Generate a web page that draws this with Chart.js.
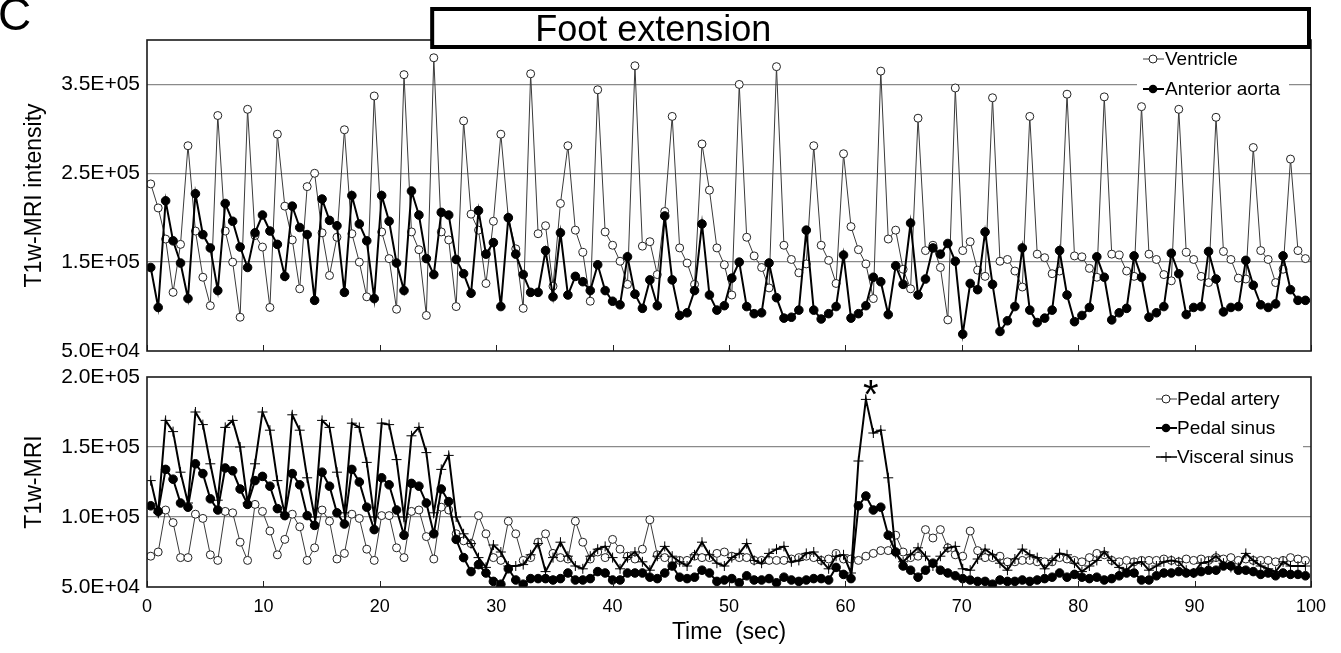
<!DOCTYPE html>
<html><head><meta charset="utf-8">
<script src="https://cdn.jsdelivr.net/npm/chart.js@4.4.0/dist/chart.umd.min.js"></script>
<style>
html,body{margin:0;padding:0;background:#fff;overflow:hidden;}
#wrap{position:relative;width:1341px;height:653px;background:#fff;}
canvas{position:absolute;left:0;}
#c1{top:0;} #c2{top:365px;}
</style></head><body>
<div id="wrap"><canvas id="c1" width="1341" height="365"></canvas><canvas id="c2" width="1341" height="288"></canvas></div>
<script>
// ---- data (values in units of 1E+05) ----
const times = [0.32,0.96,1.60,2.24,2.88,3.52,4.16,4.80,5.44,6.08,
 6.72,7.36,8.00,8.64,9.28,9.92,10.56,11.20,11.84,12.48,
 13.12,13.76,14.40,15.04,15.68,16.32,16.96,17.60,18.24,18.88,
 19.52,20.16,20.80,21.44,22.08,22.72,23.36,24.00,24.64,25.28,
 25.92,26.56,27.20,27.84,28.48,29.12,29.76,30.40,31.04,31.68,
 32.32,32.96,33.60,34.24,34.88,35.52,36.16,36.80,37.44,38.08,
 38.72,39.36,40.00,40.64,41.28,41.92,42.56,43.20,43.84,44.48,
 45.12,45.76,46.40,47.04,47.68,48.32,48.96,49.60,50.24,50.88,
 51.52,52.16,52.80,53.44,54.08,54.72,55.36,56.00,56.64,57.28,
 57.92,58.56,59.20,59.84,60.48,61.12,61.76,62.40,63.04,63.68,
 64.32,64.96,65.60,66.24,66.88,67.52,68.16,68.80,69.44,70.08,
 70.72,71.36,72.00,72.64,73.28,73.92,74.56,75.20,75.84,76.48,
 77.12,77.76,78.40,79.04,79.68,80.32,80.96,81.60,82.24,82.88,
 83.52,84.16,84.80,85.44,86.08,86.72,87.36,88.00,88.64,89.28,
 89.92,90.56,91.20,91.84,92.48,93.12,93.76,94.40,95.04,95.68,
 96.32,96.96,97.60,98.24,98.88,99.52];

const ventricle = [2.38,2.11,1.76,1.16,1.70,2.81,1.85,1.33,1.01,3.15,
 1.85,1.50,0.88,3.22,1.80,1.67,0.99,2.94,2.13,1.75,
 1.20,2.35,2.50,1.83,1.35,1.78,2.99,1.82,1.50,1.11,
 3.37,1.84,1.54,0.97,3.61,1.84,1.64,0.90,3.80,1.84,
 1.75,1.00,3.09,2.04,1.86,1.26,1.96,2.94,2.00,1.65,
 0.98,3.62,1.82,1.91,1.23,2.16,2.81,1.86,1.61,1.06,
 3.44,1.84,1.69,1.51,1.25,3.71,1.68,1.73,1.36,2.07,
 3.14,1.66,1.49,1.25,2.83,2.31,1.66,1.47,1.13,3.50,
 1.78,1.57,1.44,1.21,3.70,1.69,1.53,1.38,1.48,2.81,
 1.69,1.52,1.26,2.72,1.90,1.64,1.48,1.09,3.65,1.76,
 1.86,1.42,1.20,3.12,1.63,1.69,1.44,0.85,3.46,1.63,
 1.73,1.41,1.34,3.35,1.51,1.53,1.40,1.22,3.14,1.59,
 1.55,1.37,1.40,3.39,1.57,1.56,1.43,1.33,3.36,1.59,
 1.58,1.40,1.34,3.25,1.59,1.53,1.36,1.29,3.22,1.61,
 1.53,1.34,1.27,3.13,1.62,1.53,1.32,1.31,2.79,1.63,
 1.53,1.27,1.42,2.66,1.63,1.54];

const anteriorAorta = [1.44,0.99,2.19,1.74,1.49,1.09,2.27,1.81,1.66,1.18,
 2.16,1.96,1.67,1.44,1.83,2.03,1.85,1.70,1.34,2.13,
 1.89,1.81,1.07,2.21,1.97,1.91,1.16,2.25,1.93,1.74,
 1.09,2.25,1.96,1.49,1.18,2.30,2.03,1.54,1.36,2.06,
 2.03,1.53,1.37,1.15,2.08,1.59,1.72,1.00,2.00,1.59,
 1.36,1.16,1.16,1.63,1.11,1.83,1.13,1.34,1.28,1.18,
 1.47,1.18,1.06,1.02,1.56,1.14,0.98,1.30,1.01,2.02,
 1.30,0.90,0.93,1.18,1.93,1.13,0.96,1.01,1.32,1.50,
 1.00,0.92,0.93,1.49,1.10,0.87,0.88,0.96,1.86,0.96,
 0.86,0.92,1.00,1.58,0.87,0.92,1.01,1.33,1.28,0.91,
 1.46,1.25,1.94,1.13,1.31,1.66,1.59,1.71,1.51,0.69,
 1.26,1.19,1.84,1.25,0.72,0.84,1.00,1.66,0.96,0.82,
 0.87,0.96,1.63,1.13,0.83,0.90,0.99,1.56,1.33,0.85,
 0.93,0.98,1.57,1.33,0.88,0.93,1.00,1.60,1.37,0.91,
 0.99,1.00,1.62,1.31,0.94,0.99,1.00,1.52,1.24,1.02,
 0.99,1.03,1.57,1.19,1.07,1.07];

const pedalArtery = [0.72,0.75,1.05,0.96,0.71,0.71,1.02,0.99,0.73,0.69,
 1.04,1.03,0.82,0.69,1.09,1.04,0.90,0.73,0.84,1.02,
 0.93,0.69,0.78,1.05,0.97,0.70,0.74,1.02,0.99,0.77,
 0.69,1.01,1.01,0.78,0.71,1.04,1.05,0.86,0.70,1.07,
 1.05,0.88,0.83,0.81,1.01,0.88,0.71,0.69,0.97,0.88,
 0.69,0.71,0.82,0.88,0.74,0.71,0.70,0.97,0.82,0.70,
 0.75,0.71,0.84,0.77,0.72,0.70,0.77,0.98,0.73,0.71,
 0.69,0.69,0.69,0.72,0.71,0.71,0.74,0.75,0.72,0.71,
 0.71,0.69,0.69,0.69,0.69,0.69,0.70,0.71,0.72,0.71,
 0.69,0.70,0.74,0.70,0.70,0.69,0.72,0.74,0.76,0.76,
 0.87,0.75,0.71,0.72,0.91,0.85,0.91,0.78,0.73,0.72,
 0.90,0.76,0.71,0.71,0.72,0.68,0.68,0.69,0.69,0.68,
 0.68,0.68,0.71,0.70,0.69,0.68,0.71,0.74,0.73,0.69,
 0.68,0.69,0.68,0.69,0.69,0.69,0.70,0.69,0.68,0.70,
 0.69,0.70,0.69,0.71,0.70,0.71,0.69,0.70,0.69,0.69,
 0.69,0.68,0.69,0.71,0.70,0.69];

const pedalSinus = [1.08,1.04,1.34,1.27,1.10,1.07,1.38,1.31,1.13,1.05,
 1.35,1.33,1.20,1.09,1.26,1.29,1.22,1.06,1.01,1.31,
 1.23,1.01,0.94,1.32,1.22,1.03,0.95,1.34,1.25,1.07,
 0.91,1.28,1.23,1.05,0.87,1.24,1.22,1.10,0.88,1.20,
 1.11,0.84,0.71,0.61,0.66,0.60,0.54,0.52,0.63,0.55,
 0.52,0.56,0.56,0.56,0.55,0.56,0.60,0.55,0.55,0.56,
 0.61,0.60,0.55,0.55,0.60,0.60,0.60,0.57,0.56,0.60,
 0.65,0.57,0.56,0.57,0.62,0.60,0.54,0.55,0.56,0.53,
 0.58,0.55,0.55,0.56,0.53,0.57,0.55,0.54,0.55,0.56,
 0.56,0.55,0.64,0.59,0.56,1.08,1.15,1.05,1.07,0.87,
 0.75,0.65,0.62,0.57,0.62,0.67,0.62,0.60,0.58,0.56,
 0.55,0.54,0.54,0.52,0.55,0.54,0.54,0.55,0.54,0.55,
 0.56,0.57,0.60,0.57,0.59,0.57,0.56,0.57,0.55,0.56,
 0.58,0.60,0.60,0.55,0.55,0.58,0.60,0.60,0.61,0.60,
 0.60,0.61,0.62,0.62,0.65,0.65,0.62,0.62,0.61,0.59,
 0.60,0.58,0.60,0.59,0.59,0.58];

const visceralSinus = [1.26,1.03,1.69,1.61,1.32,1.10,1.75,1.66,1.38,1.12,
 1.64,1.69,1.50,1.10,1.38,1.75,1.62,1.26,1.02,1.73,
 1.62,1.28,1.00,1.69,1.64,1.32,1.03,1.67,1.64,1.39,
 1.00,1.67,1.66,1.41,1.00,1.58,1.64,1.46,1.03,1.34,
 1.44,1.00,0.88,0.81,0.71,0.64,0.80,0.75,0.65,0.65,
 0.66,0.73,0.81,0.61,0.71,0.82,0.72,0.65,0.63,0.72,
 0.77,0.79,0.71,0.63,0.71,0.75,0.68,0.62,0.72,0.79,
 0.72,0.68,0.65,0.73,0.82,0.73,0.67,0.65,0.71,0.74,
 0.81,0.69,0.67,0.74,0.77,0.79,0.68,0.69,0.74,0.75,
 0.69,0.63,0.72,0.73,0.60,1.40,1.84,1.60,1.62,1.28,
 0.74,0.68,0.73,0.78,0.72,0.65,0.72,0.78,0.79,0.63,
 0.62,0.70,0.77,0.73,0.67,0.62,0.70,0.77,0.73,0.71,
 0.63,0.69,0.74,0.73,0.67,0.61,0.65,0.69,0.75,0.69,
 0.64,0.62,0.67,0.68,0.62,0.65,0.68,0.69,0.68,0.62,
 0.60,0.67,0.68,0.72,0.67,0.64,0.64,0.74,0.69,0.65,
 0.63,0.61,0.68,0.65,0.65,0.65];

const xTicks = [0,10,20,30,40,50,60,70,80,90,100];
const topYTicks = [0.5,1.5,2.5,3.5];
const topYLabels = ['5.0E+04','1.5E+05','2.5E+05','3.5E+05'];
const botYTicks = [0.5,1.0,1.5,2.0];
const botYLabels = ['5.0E+04','1.0E+05','1.5E+05','2.0E+05'];
const footStart = 24.5;      // start of "Foot extension" period (sec)
const starIndex = 96;        // sample marked with "*"

// ---- rendering ----
const FONT = '"Liberation Sans", Arial, Helvetica, sans-serif';
Chart.defaults.font.family = FONT;
Chart.defaults.color = '#000';
const pts = arr => times.map((t, i) => ({x: t, y: arr[i]}));
const GRID = '#8a8a8a';

function drawLegendMarker(ctx, style, x, y) {
  ctx.save();
  ctx.lineWidth = 1;
  if (style === 'open') { ctx.fillStyle = '#fff'; ctx.strokeStyle = '#222';
    ctx.beginPath(); ctx.arc(x, y, 4, 0, Math.PI*2); ctx.fill(); ctx.stroke(); }
  else if (style === 'filled') { ctx.fillStyle = '#000'; ctx.beginPath(); ctx.arc(x, y, 4.3, 0, Math.PI*2); ctx.fill(); }
  else { ctx.strokeStyle = '#000'; ctx.beginPath(); ctx.moveTo(x-5, y); ctx.lineTo(x+5, y); ctx.moveTo(x, y-5); ctx.lineTo(x, y+5); ctx.stroke(); }
  ctx.restore();
}

const decor = {
  id: 'decor',
  afterDraw(chart, args, o) {
    const ctx = chart.ctx, a = chart.chartArea, xs = chart.scales.x, ys = chart.scales.y;
    ctx.save();
    ctx.strokeStyle = '#222'; ctx.lineWidth = 1;
    xTicks.forEach(v => { const px = Math.round(xs.getPixelForValue(v)) + 0.5;
      ctx.beginPath(); ctx.moveTo(px, a.bottom); ctx.lineTo(px, a.bottom - 6); ctx.stroke(); });
    ctx.lineWidth = 1.6; ctx.strokeStyle = '#1a1a1a';
    ctx.strokeRect(a.left, a.top, a.right - a.left, a.bottom - a.top);
    const L = o.legend;
    ctx.fillStyle = '#fff';
    ctx.fillRect(L.box[0], L.box[1], L.box[2] - L.box[0], L.box[3] - L.box[1]);
    ctx.font = '19px ' + FONT; ctx.textBaseline = 'middle'; ctx.textAlign = 'left';
    L.items.forEach(it => {
      ctx.strokeStyle = it.lineColor; ctx.lineWidth = it.lineWidth;
      ctx.beginPath(); ctx.moveTo(L.mx - 10, it.y); ctx.lineTo(L.mx + 11, it.y); ctx.stroke();
      drawLegendMarker(ctx, it.marker, L.mx, it.y);
      ctx.fillStyle = '#000'; ctx.fillText(it.text, L.tx, it.y + 1);
    });
    if (o.foot) {
      const x0 = xs.getPixelForValue(footStart), x1 = a.right - 2;
      ctx.fillStyle = '#fff'; ctx.fillRect(x0, 9, x1 - x0, 38);
      ctx.lineWidth = 4; ctx.strokeStyle = '#000'; ctx.strokeRect(x0, 9, x1 - x0, 38);
      ctx.fillStyle = '#000'; ctx.font = '36px ' + FONT; ctx.textBaseline = 'alphabetic';
      ctx.fillText('Foot extension', x0 + 103, 41);
      ctx.font = '46px ' + FONT; ctx.fillText('C', -2, 30);
    }
    if (o.star) {
      const px = xs.getPixelForValue(times[starIndex]) + 5;
      const py = ys.getPixelForValue(visceralSinus[starIndex]) - 12;
      ctx.font = '40px ' + FONT; ctx.textBaseline = 'alphabetic'; ctx.textAlign = 'center';
      const m = ctx.measureText('*');
      ctx.fillStyle = '#000';
      ctx.fillText('*', px, py - (m.actualBoundingBoxDescent - m.actualBoundingBoxAscent) / 2);
    }
    ctx.restore();
  }
};

function yScale(min, max, tickVals, tickLabels, title, titlePad) {
  return {
    min, max,
    afterBuildTicks: s => { s.ticks = tickVals.map(v => ({value: v})); },
    afterFit: s => { s.width = 147; s.paddingTop = 0; s.paddingBottom = 0; },
    ticks: { font: {size: 21}, padding: 7, color: '#000', callback: (v, i) => tickLabels[i] },
    grid: { drawTicks: false, lineWidth: 1.3,
      color: c => (c.tick && (c.tick.value === min || c.tick.value === max)) ? 'rgba(0,0,0,0)' : GRID },
    border: { display: false },
    title: { display: true, text: title, font: {size: 23}, color: '#000', padding: {top: titlePad, bottom: 0} }
  };
}

const common = { responsive: false, animation: false, devicePixelRatio: 1, events: [] };

new Chart(document.getElementById('c1'), {
  type: 'line',
  data: { datasets: [
    { label: 'Anterior aorta', data: pts(anteriorAorta), order: 0, borderColor: '#000', borderWidth: 2,
      pointRadius: 4.3, pointBackgroundColor: '#000', pointBorderColor: '#000', pointBorderWidth: 1, tension: 0 },
    { label: 'Ventricle', data: pts(ventricle), order: 1, borderColor: '#3a3a3a', borderWidth: 1,
      pointRadius: 4, pointBackgroundColor: '#fff', pointBorderColor: '#222', pointBorderWidth: 1, tension: 0 }
  ]},
  options: Object.assign({}, common, {
    layout: { autoPadding: false, padding: { left: 0, right: 30, top: 40, bottom: 14 } },
    plugins: { legend: {display: false}, tooltip: {enabled: false},
      decor: { foot: true, star: false, legend: { box: [1137, 46, 1289, 101], mx: 1153, tx: 1165, items: [
        { text: 'Ventricle', marker: 'open', y: 59, lineColor: '#3a3a3a', lineWidth: 1 },
        { text: 'Anterior aorta', marker: 'filled', y: 89, lineColor: '#000', lineWidth: 2 } ] } } },
    scales: {
      x: { type: 'linear', display: false, min: 0, max: 100 },
      y: yScale(0.5, 4.0, topYTicks, topYLabels, 'T1w-MRI intensity', 21)
    }
  }),
  plugins: [decor]
});

new Chart(document.getElementById('c2'), {
  type: 'line',
  data: { datasets: [
    { label: 'Visceral sinus', data: pts(visceralSinus), order: 0, borderColor: '#000', borderWidth: 2,
      pointStyle: 'cross', pointRadius: 5, pointBorderColor: '#000', pointBorderWidth: 1, tension: 0 },
    { label: 'Pedal sinus', data: pts(pedalSinus), order: 1, borderColor: '#000', borderWidth: 2,
      pointRadius: 4.3, pointBackgroundColor: '#000', pointBorderColor: '#000', pointBorderWidth: 1, tension: 0 },
    { label: 'Pedal artery', data: pts(pedalArtery), order: 2, borderColor: '#3a3a3a', borderWidth: 1,
      pointRadius: 4, pointBackgroundColor: '#fff', pointBorderColor: '#222', pointBorderWidth: 1, tension: 0 }
  ]},
  options: Object.assign({}, common, {
    layout: { autoPadding: false, padding: { left: 0, right: 30, top: 12, bottom: 0 } },
    plugins: { legend: {display: false}, tooltip: {enabled: false},
      decor: { foot: false, star: true, legend: { box: [1150, 20, 1303, 106], mx: 1166, tx: 1177, items: [
        { text: 'Pedal artery', marker: 'open', y: 34, lineColor: '#3a3a3a', lineWidth: 1 },
        { text: 'Pedal sinus', marker: 'filled', y: 63, lineColor: '#000', lineWidth: 2 },
        { text: 'Visceral sinus', marker: 'cross', y: 92, lineColor: '#000', lineWidth: 1.5 } ] } } },
    scales: {
      x: { type: 'linear', min: 0, max: 100,
        afterBuildTicks: s => { s.ticks = xTicks.map(v => ({value: v})); },
        afterFit: s => { s.height = 66; },
        ticks: { font: {size: 18}, padding: 9, color: '#000', maxRotation: 0, autoSkip: false },
        grid: { display: false, drawTicks: false },
        border: { display: false },
        title: { display: true, text: 'Time  (sec)', font: {size: 23}, color: '#000', padding: {top: 0, bottom: 7} } },
      y: yScale(0.5, 2.0, botYTicks, botYLabels, 'T1w-MRI', 21)
    }
  }),
  plugins: [decor]
});
</script></body></html>
